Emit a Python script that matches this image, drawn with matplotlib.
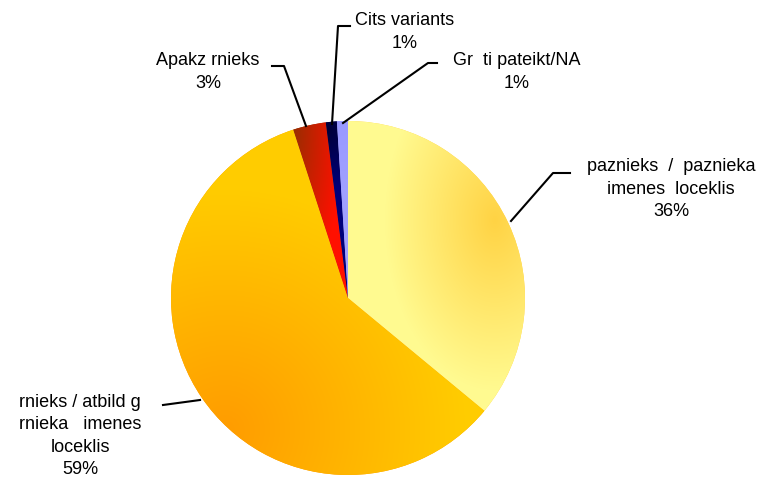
import numpy as np
import matplotlib
matplotlib.use('Agg')
import matplotlib.pyplot as plt
from matplotlib.colors import to_rgb

labels = ['paznieks  /  paznieka\nimenes  loceklis',
          'rnieks / atbild g\nrnieka   imenes\nloceklis',
          'Apakz rnieks',
          'Cits variants',
          'Gr  ti pateikt/NA']
values = [36, 59, 3, 1, 1]

# gradient per slice: (focus point in px, reach x/y in px, colour at focus, colour far away)
grads = [((495, 220), (110, 170), '#FFD344', '#FFFA90'),
         ((225, 430), (240, 240), '#FF9C00', '#FFCC00'),
         ((292, 128), (50, 170), '#962E00', '#FF1000'),
         ((326, 128), (60, 60), '#000038', '#00007A'),
         ((340, 128), (60, 60), '#9999FF', '#A0A0FF')]

W, H = 769, 479
fig = plt.figure(figsize=(W / 100, H / 100), dpi=100)
ax = fig.add_axes([0, 0, 1, 1])
plt.rcParams['font.family'] = ['Liberation Sans', 'DejaVu Sans']

cx, cy, r = 348, H - 298, 177
wedges, _ = ax.pie(values, startangle=90, counterclock=False, center=(cx, cy),
                   radius=r, colors=[g[2] for g in grads],
                   wedgeprops=dict(linewidth=0))
ax.set_xlim(0, W)
ax.set_ylim(0, H)
ax.set_aspect('equal')
ax.axis('off')

# pixel grid, row 0 at the top
xx, yy = np.meshgrid(np.arange(W) + 0.5, np.arange(H) + 0.5)
for w, (f, (rx, ry), c0, c1) in zip(wedges, grads):
    t = np.clip(np.hypot((xx - f[0]) / rx, (yy - f[1]) / ry), 0, 1)
    a, b = np.array(to_rgb(c0)), np.array(to_rgb(c1))
    img = a + (b - a) * t[..., None]
    im = ax.imshow(img, extent=(0, W, 0, H), origin='upper',
                   interpolation='bilinear', zorder=2)
    im.set_clip_path(w)
ax.set_xlim(0, W)
ax.set_ylim(0, H)


def P(pts):
    return [p[0] for p in pts], [H - p[1] for p in pts]


leaders = [[(511, 221), (553, 173), (570, 173)],
           [(163, 405), (200, 400)],
           [(306, 126), (284, 66), (272, 66)],
           [(332, 124), (338, 26), (350, 26)],
           [(343, 123), (428, 63), (437, 63)]]
for pts in leaders:
    xs, ys = P(pts)
    ax.plot(xs, ys, color='black', lw=1.5, clip_on=False, zorder=3)

text_pos = [(671, 189), (80, 436), (208, 72), (405, 32), (517, 72)]
for lab, v, (tx, ty) in zip(labels, values, text_pos):
    ax.text(tx, H - ty, f'{lab}\n{v}%', ha='center', va='center', fontsize=13,
            linespacing=1.4, color='black', multialignment='center')

fig.savefig('out.png', dpi=100)
